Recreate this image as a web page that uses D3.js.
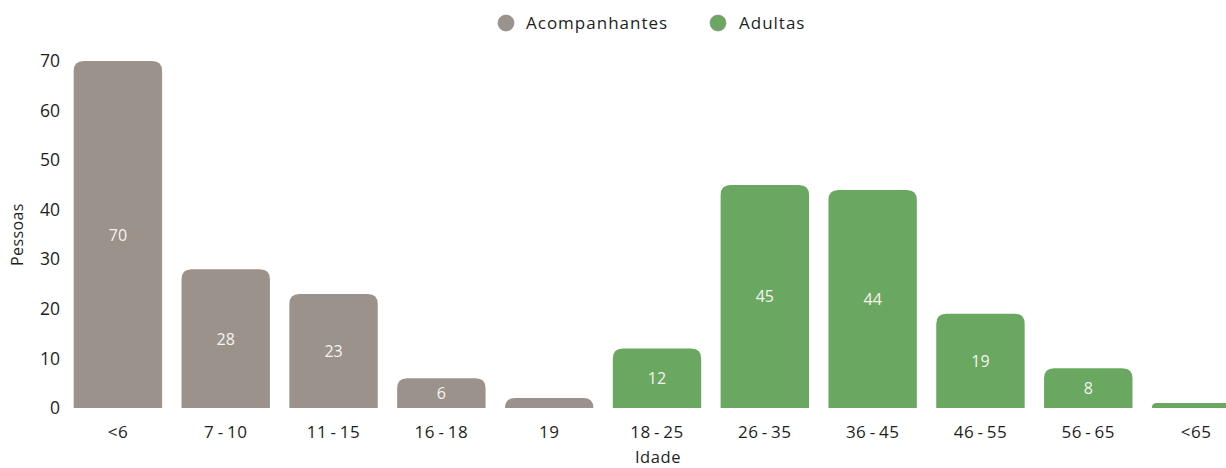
<!DOCTYPE html>
<html>
<head>
<meta charset="utf-8">
<script src="https://cdn.jsdelivr.net/npm/d3@7"></script>
<style>
  html, body { margin: 0; padding: 0; background: #ffffff; }
  svg { display: block; font-family: "Open Sans", "Noto Sans", sans-serif; }
</style>
</head>
<body>
<svg id="chart" width="1226" height="468"></svg>
<script>
// Age groups on the x axis
const categories = ["<6", "7-10", "11-15", "16-18", "19", "18-25", "26-35", "36-45", "46-55", "56-65", "<65"];
// People per age group, one array per series (null where the series has no bar)
const acompanhantes = [70, 28, 23, 6, 2, null, null, null, null, null, null];
const adultas = [null, null, null, null, null, 12, 45, 44, 19, 8, 1];
const seriesNames = ["Acompanhantes", "Adultas"];
const yTicks = [0, 10, 20, 30, 40, 50, 60, 70];

const colors = { "Acompanhantes": "#9c928c", "Adultas": "#6aa862" };
const textColor = "#1e1e1e";

const svg = d3.select("#chart");

const x = d3.scaleBand()
  .domain(categories)
  .range([64, 1250])
  .paddingInner(0.18)
  .paddingOuter(0.09);

const y = d3.scaleLinear()
  .domain([0, 70])
  .range([408, 61]);

// Flatten the two series into one list of bars
const bars = [];
categories.forEach((c, i) => {
  if (acompanhantes[i] != null) bars.push({ cat: c, value: acompanhantes[i], series: "Acompanhantes" });
  if (adultas[i] != null) bars.push({ cat: c, value: adultas[i], series: "Adultas" });
});

// Bar with rounded top corners
function topRounded(x0, y0, w, h, r) {
  r = Math.min(r, h, w / 2);
  return `M${x0},${y0 + h}` +
    `V${y0 + r}` +
    `Q${x0},${y0} ${x0 + r},${y0}` +
    `H${x0 + w - r}` +
    `Q${x0 + w},${y0} ${x0 + w},${y0 + r}` +
    `V${y0 + h}Z`;
}

const g = svg.append("g");

g.selectAll("path.bar")
  .data(bars)
  .join("path")
  .attr("class", "bar")
  .attr("d", d => {
    const top = y(d.value), base = y(0);
    return topRounded(x(d.cat), top, x.bandwidth(), base - top, 10);
  })
  .attr("fill", d => colors[d.series]);

// Value labels in the middle of each bar
g.selectAll("text.val")
  .data(bars.filter(d => y(0) - y(d.value) > 20))
  .join("text")
  .attr("class", "val")
  .attr("x", d => x(d.cat) + x.bandwidth() / 2)
  .attr("y", d => (y(d.value) + y(0)) / 2)
  .attr("text-anchor", "middle")
  .attr("dominant-baseline", "central")
  .attr("fill", "#f6f3ef")
  .attr("font-size", 16)
  .text(d => d.value);

// Y axis (labels only)
const yAxis = d3.axisLeft(y).tickValues(yTicks).tickSize(0).tickPadding(0);
const ya = svg.append("g").attr("transform", "translate(60,0)").call(yAxis);
ya.select(".domain").remove();
ya.selectAll("text")
  .attr("font-size", 17.5)
  .attr("fill", textColor)
  .attr("font-family", "'Open Sans', 'Noto Sans', sans-serif");

// X axis (labels only)
const xAxis = d3.axisBottom(x).tickSize(0).tickPadding(18);
const xa = svg.append("g").attr("transform", `translate(0,${y(0)})`).call(xAxis);
xa.select(".domain").remove();
xa.selectAll("text")
  .attr("font-size", 17)
  .attr("letter-spacing", 0.5)
  .attr("fill", textColor)
  .attr("font-family", "'Open Sans', 'Noto Sans', sans-serif")
  .text(d => d.replace("-", "\u2009-\u2009"));

// Axis titles
svg.append("text")
  .attr("x", 658)
  .attr("y", 456)
  .attr("text-anchor", "middle")
  .attr("dominant-baseline", "central")
  .attr("font-size", 16.5)
  .attr("letter-spacing", 0.6)
  .attr("fill", textColor)
  .text("Idade");

svg.append("text")
  .attr("transform", `translate(17,${(y(0) + y(70)) / 2}) rotate(-90)`)
  .attr("text-anchor", "middle")
  .attr("dominant-baseline", "central")
  .attr("font-size", 16)
  .attr("letter-spacing", 0.4)
  .attr("fill", textColor)
  .text("Pessoas");

// Legend
const legendItems = [
  { name: seriesNames[0], cx: 506, tx: 526 },
  { name: seriesNames[1], cx: 718, tx: 739 }
];
const lg = svg.append("g").selectAll("g").data(legendItems).join("g");
lg.append("circle")
  .attr("cx", d => d.cx).attr("cy", 23).attr("r", 8)
  .attr("fill", d => colors[d.name])
  .attr("stroke", "#8c8c8c").attr("stroke-width", 0.7);
lg.append("text")
  .attr("x", d => d.tx).attr("y", 22)
  .attr("dominant-baseline", "central")
  .attr("font-size", 17)
  .attr("letter-spacing", 1)
  .attr("fill", textColor)
  .text(d => d.name);
</script>
</body>
</html>
